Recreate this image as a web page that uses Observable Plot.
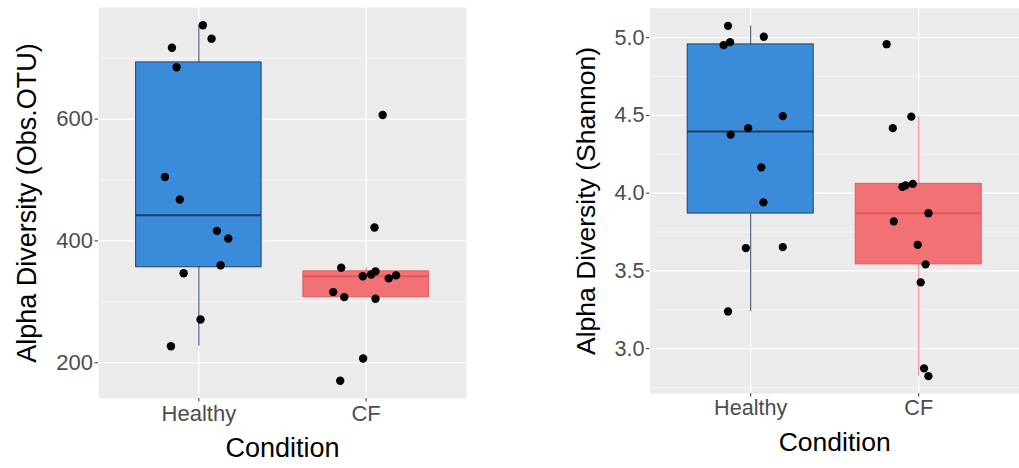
<!DOCTYPE html>
<html>
<head>
<meta charset="utf-8">
<script src="https://cdn.jsdelivr.net/npm/d3@7"></script>
<script src="https://cdn.jsdelivr.net/npm/@observablehq/plot@0.6"></script>
<style>
  html, body { margin: 0; padding: 0; background: #fff; }
  #wrap { display: flex; width: 1019px; height: 468px; overflow: hidden; }
  #left { width: 500px; height: 468px; overflow: hidden; }
  #right { width: 519px; height: 468px; overflow: hidden; }
  svg { display: block; }
</style>
</head>
<body>
<div id="wrap"><div id="left"></div><div id="right"></div></div>
<script>
// Conditions in axis order
const conditions = ["Healthy", "CF"];

// Observed OTUs per sample, with horizontal jitter (category units)
const otuHealthy = [754, 732, 717, 685, 505, 468, 416.5, 404, 360, 347, 271, 227];
const otuHealthyJitter = [0.024, 0.076, -0.161, -0.133, -0.203, -0.114, 0.108, 0.176, 0.130, -0.091, 0.010, -0.167];
const otuCF = [606.6, 422, 356, 342, 345, 350, 338.5, 343.4, 316, 307.7, 305, 207, 170.5];
const otuCFJitter = [0.099, 0.050, -0.149, -0.020, 0.030, 0.056, 0.135, 0.179, -0.197, -0.131, 0.056, -0.018, -0.155];

// Shannon index per sample, with horizontal jitter (category units)
const shannonHealthy = [5.076, 5.006, 4.971, 4.952, 4.496, 4.418, 4.376, 4.166, 3.941, 3.647, 3.653, 3.239];
const shannonHealthyJitter = [-0.135, 0.078, -0.123, -0.161, 0.191, -0.015, -0.119, 0.063, 0.076, -0.029, 0.191, -0.135];
const shannonCF = [4.958, 4.492, 4.418, 4.040, 4.050, 4.060, 3.871, 3.819, 3.668, 3.542, 3.426, 2.873, 2.823];
const shannonCFJitter = [-0.191, -0.044, -0.154, -0.097, -0.078, -0.035, 0.058, -0.148, -0.006, 0.041, 0.012, 0.032, 0.058];

// Axis ticks
const otuTicks = [200, 400, 600];
const otuMinor = [300, 500, 700];
const shannonTicks = [3.0, 3.5, 4.0, 4.5, 5.0];
const shannonMinor = [2.75, 3.25, 3.75, 4.25, 4.75];

const fills = {Healthy: "#3A8CDA", CF: "#F17174"};
const strokes = {Healthy: "#1F3F63", CF: "#E5575C"};
const whiskerStrokes = {Healthy: "#3D5877", CF: "#F08589"};

const FONT = "'Liberation Sans', Arial, Helvetica, sans-serif";

function boxStats(values, pos, cond) {
  const s = values.slice().sort(d3.ascending);
  const q1 = d3.quantile(s, 0.25), q2 = d3.quantile(s, 0.5), q3 = d3.quantile(s, 0.75);
  const iqr = q3 - q1;
  const lo = d3.min(s.filter(v => v >= q1 - 1.5 * iqr));
  const hi = d3.max(s.filter(v => v <= q3 + 1.5 * iqr));
  return {cond, pos, q1, q2, q3, lo, hi};
}

function panel({groups, ticks, minor, yTitle, width, marginLeft, marginRight, marginTop, marginBottom, titleDx}) {
  const points = groups.flatMap((g, i) =>
    g.values.map((v, j) => ({cond: conditions[i], x: i + 1 + g.jitter[j], y: v})));
  const boxes = groups.map((g, i) => boxStats(g.values, i + 1, conditions[i]));
  const all = points.map(d => d.y);
  const [mn, mx] = d3.extent(all);
  const pad = (mx - mn) * 0.05;
  const halfW = 0.375;

  return Plot.plot({
    width, height: 468,
    marginLeft, marginRight, marginTop, marginBottom,
    style: {fontFamily: FONT, fontSize: "22px", color: "#4D4D4D", background: "transparent"},
    x: {type: "linear", domain: [0.4, 2.6], ticks: [1, 2], tickFormat: d => conditions[d - 1],
        tickSize: 3.5, tickPadding: 3, label: null},
    y: {domain: [mn - pad, mx + pad], ticks, tickSize: 3.5, tickPadding: 2, label: null,
        tickFormat: d => ticks === otuTicks ? d3.format("d")(d) : d3.format(".1f")(d)},
    marks: [
      Plot.frame({fill: "#EBEBEB", stroke: null}),
      Plot.ruleY(minor, {stroke: "#FFFFFF", strokeWidth: 0.6}),
      Plot.ruleY(ticks, {stroke: "#FFFFFF", strokeWidth: 1.2}),
      Plot.ruleX([1, 2], {stroke: "#FFFFFF", strokeWidth: 1.2}),
      // whiskers
      Plot.ruleX(boxes, {x: "pos", y1: "lo", y2: "hi", stroke: d => whiskerStrokes[d.cond], strokeWidth: 1.1}),
      // boxes
      Plot.rect(boxes, {x1: d => d.pos - halfW, x2: d => d.pos + halfW, y1: "q1", y2: "q3",
        fill: d => fills[d.cond], stroke: d => strokes[d.cond], strokeWidth: 1}),
      // medians
      Plot.ruleY(boxes, {y: "q2", x1: d => d.pos - halfW, x2: d => d.pos + halfW,
        stroke: d => strokes[d.cond], strokeWidth: 2}),
      Plot.dot(points, {x: "x", y: "y", r: 4.2, fill: "#000000", stroke: null}),
      Plot.axisY({ticks, tickSize: 3.5, tickPadding: 2, label: null, stroke: "#333333",
        tickFormat: d => ticks === otuTicks ? d3.format("d")(d) : d3.format(".1f")(d)}),
      Plot.axisX({ticks: [1, 2], tickSize: 3.5, tickPadding: 3, label: null, stroke: "#333333",
        tickFormat: d => conditions[d - 1]}),
      Plot.text([yTitle], {frameAnchor: "left", dx: titleDx, rotate: -90, text: d => d,
        textAnchor: "middle", lineAnchor: "middle", fontSize: 27, fill: "#000000"}),
      Plot.text(["Condition"], {frameAnchor: "bottom", dy: 50, text: d => d,
        textAnchor: "middle", lineAnchor: "middle", fontSize: 27, fill: "#000000"})
    ]
  });
}

document.getElementById("left").append(panel({
  groups: [{values: otuHealthy, jitter: otuHealthyJitter}, {values: otuCF, jitter: otuCFJitter}],
  ticks: otuTicks, minor: otuMinor, yTitle: "Alpha Diversity (Obs.OTU)",
  width: 500, marginLeft: 98, marginRight: 34, marginTop: 7, marginBottom: 70, titleDx: -71
}));

document.getElementById("right").append(panel({
  groups: [{values: shannonHealthy, jitter: shannonHealthyJitter}, {values: shannonCF, jitter: shannonCFJitter}],
  ticks: shannonTicks, minor: shannonMinor, yTitle: "Alpha Diversity (Shannon)",
  width: 528, marginLeft: 152, marginRight: 0, marginTop: 8, marginBottom: 68, titleDx: -65
}));
</script>
</body>
</html>
